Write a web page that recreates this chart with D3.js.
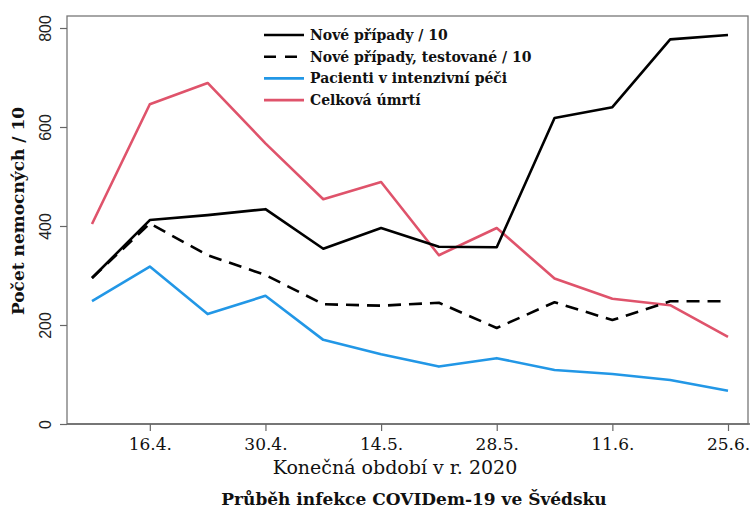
<!DOCTYPE html>
<html>
<head>
<meta charset="utf-8">
<script src="https://cdn.jsdelivr.net/npm/d3@7"></script>
<style>
body{margin:0;background:#fff;}
svg{font-family:"DejaVu Serif",serif;}
</style>
</head>
<body>
<div id="chart"></div>
<script>
// week end dates (2020)
const weeks = ["2020-04-09","2020-04-16","2020-04-23","2020-04-30","2020-05-07","2020-05-14",
  "2020-05-21","2020-05-28","2020-06-04","2020-06-11","2020-06-18","2020-06-25"];
const tickDates = ["2020-04-16","2020-04-30","2020-05-14","2020-05-28","2020-06-11","2020-06-25"];
const tickLabels = ["16.4.","30.4.","14.5.","28.5.","11.6.","25.6."];
const yTicks = [0,200,400,600,800];

const newCases = [295,412,422,434,354,396,358,357,618,640,777,786];
const newTested = [295,405,341,301,242,239,245,194,246,210,248,248];
const icuPatients = [248,318,222,259,170,141,116,133,109,101,89,67];
const deaths = [404,646,689,567,454,489,341,396,294,253,240,176];

const seriesNames = ["Nové případy / 10","Nové případy, testované / 10","Pacienti v intenzivní péči","Celková úmrtí"];
const seriesColors = ["#000000","#000000","#2297E6","#DF536B"];
const seriesDash = [null,"13,8",null,null];

var W = 750, H = 514;
var box = {left:67,top:16,right:748,bottom:424};
const serif = "DejaVu Serif, serif";

var parse = d3.timeParse("%Y-%m-%d");
var dates = weeks.map(parse);

var svg = d3.select("#chart").append("svg")
  .attr("width",W).attr("height",H);

var x = d3.scaleTime()
  .domain([dates[0],dates[dates.length-1]])
  .range([92,728]);
var y = d3.scaleLinear().domain([0,800]).range([424,28]);

// frame
svg.append("rect")
  .attr("x",box.left).attr("y",box.top)
  .attr("width",box.right-box.left).attr("height",box.bottom-box.top)
  .attr("fill","none").attr("stroke","#777").attr("stroke-width",1.3);

// x axis
var xAxis = svg.append("g")
  .attr("transform","translate(0,"+box.bottom+")")
  .call(d3.axisBottom(x).tickValues(tickDates.map(parse))
    .tickFormat((d,i)=>tickLabels[i]).tickSize(7).tickSizeOuter(0));
xAxis.select(".domain").attr("stroke","#666").attr("stroke-width",1.3)
  .attr("d","M"+box.left+",0H"+W);
xAxis.selectAll(".tick line").attr("stroke","#666").attr("stroke-width",1.2);
xAxis.selectAll("text").style("font-family",serif).attr("font-size",17)
  .attr("fill","#111").attr("dy","0.95em");

// y axis
var yAxis = svg.append("g")
  .attr("transform","translate("+box.left+",0)")
  .call(d3.axisLeft(y).tickValues(yTicks).tickSize(7).tickSizeOuter(0));
yAxis.select(".domain").remove();
yAxis.selectAll(".tick line").attr("stroke","#666").attr("stroke-width",1.2);
yAxis.selectAll("text")
  .style("font-family","Liberation Sans, Arial, sans-serif").attr("font-size",16).attr("fill","#222")
  .attr("text-anchor","middle").attr("x",0).attr("dy",0)
  .attr("transform","translate(-16,0) rotate(-90)");

// lines
var allSeries = [newCases,newTested,icuPatients,deaths];
var line = d3.line().x((d,i)=>x(dates[i])).y(d=>y(d));
// draw order: blue and red first, black on top
[3,2,1,0].forEach(function(k){
  svg.append("path")
    .datum(allSeries[k])
    .attr("d",line)
    .attr("fill","none")
    .attr("stroke",seriesColors[k])
    .attr("stroke-width",2.6)
    .attr("stroke-dasharray",seriesDash[k])
    .attr("stroke-linejoin","round");
});

// legend
var leg = svg.append("g");
seriesNames.forEach(function(n,i){
  var ly = 35 + i*21.7;
  leg.append("line")
    .attr("x1",264).attr("x2",304).attr("y1",ly).attr("y2",ly)
    .attr("stroke",seriesColors[i]).attr("stroke-width",2.6)
    .attr("stroke-dasharray",i==1?"12,9":null);
  leg.append("text")
    .attr("x",310).attr("y",ly).attr("dy","0.35em")
    .attr("font-size",14).attr("font-weight","bold").attr("fill","#111")
    .text(n);
});

// axis titles
svg.append("text")
  .attr("transform","translate(24,211) rotate(-90)")
  .attr("text-anchor","middle").attr("font-size",17).attr("font-weight","bold")
  .attr("fill","#111")
  .text("Počet nemocných / 10");
svg.append("text")
  .attr("x",395).attr("y",474)
  .attr("text-anchor","middle").attr("font-size",19)
  .attr("fill","#111")
  .text("Konečná období v r. 2020");
svg.append("text")
  .attr("x",414).attr("y",505)
  .attr("text-anchor","middle").attr("font-size",17).attr("font-weight","bold")
  .attr("fill","#111")
  .text("Průběh infekce COVIDem-19 ve Švédsku");
</script>
</body>
</html>
